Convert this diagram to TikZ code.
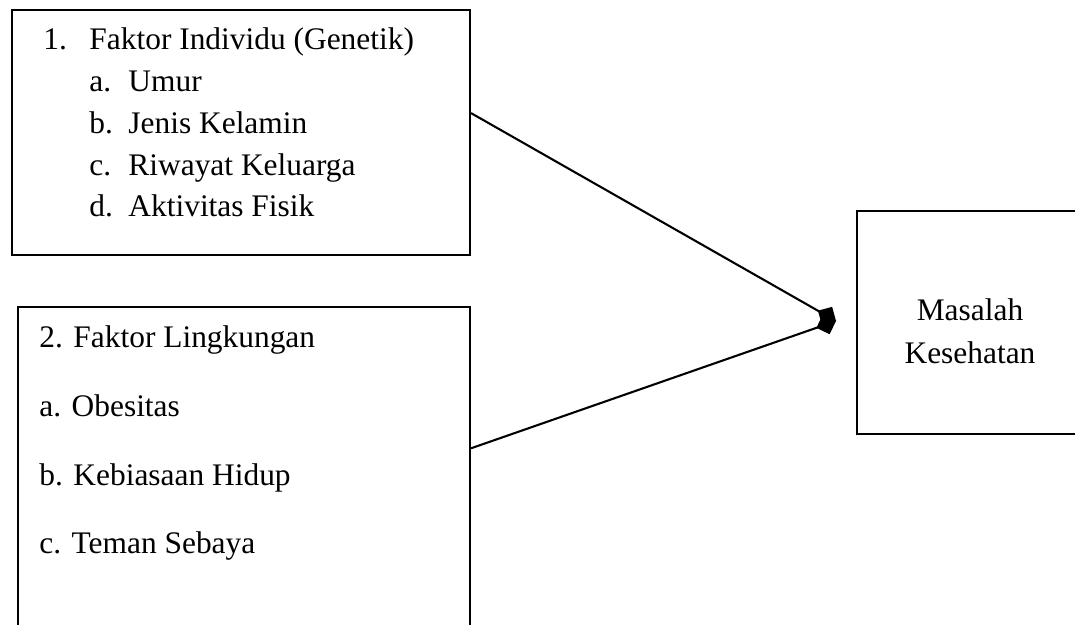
\documentclass[tikz,border=0pt,12pt]{standalone}
\usepackage{fontspec}
\setmainfont{Liberation Serif}
\usepackage{tikz}
\usetikzlibrary{arrows.meta}

\tikzset{
  kotak/.style={draw, line width=0.9pt, inner sep=0pt},
  teks/.style={anchor=base west, inner sep=0pt, font=\fontsize{13.6}{16}\selectfont},
  panah/.style={line width=0.9pt, -{Diamond[length=9pt,width=9pt]}}
}

\begin{document}
\begin{tikzpicture}[x=0.433pt, y=-0.433pt]
  \useasboundingbox (0,0) rectangle (1075,625);
  \clip (0,0) rectangle (1075,625);
  % kotak faktor
  \node[kotak, minimum width=458*0.433pt, minimum height=245*0.433pt] (box1) at (241,132.5) {};
  \node[kotak, minimum width=452*0.433pt, minimum height=338*0.433pt] (box2) at (244,476) {};
  \node[kotak, minimum width=228*0.433pt, minimum height=223*0.433pt] (box3) at (971,322.5) {};
  % isi kotak 1
  \node[teks] (no1) at (43,50) {1.};
  \node[teks] (f1) at (89,50) {Faktor Individu (Genetik)};
  \foreach \huruf/\isi [count=\i] in {a/Umur, b/Jenis Kelamin, c/Riwayat Keluarga, d/Aktivitas Fisik}
  {
    \node[teks] (h1\i) at (89,50+41.75*\i) {\huruf.};
    \node[teks] (s1\i) at (128,50+41.75*\i) {\isi};
  }
  % isi kotak 2
  \node[teks] (f2) at (39,347) {2. Faktor Lingkungan};
  \node[teks] (s21) at (39,416) {a. Obesitas};
  \node[teks] (s22) at (39,485) {b. Kebiasaan Hidup};
  \node[teks] (s23) at (39,553) {c. Teman Sebaya};
  % isi kotak 3
  \node[teks, anchor=base] (m1) at (970,320) {Masalah};
  \node[teks, anchor=base] (m2) at (970,363) {Kesehatan};
  % panah
  \coordinate (ujung) at (836,321);
  \draw[panah] ([yshift=8.4pt]box1.east) -- (ujung);
  \draw[panah] ([yshift=12pt]box2.east) -- (ujung);
\end{tikzpicture}
\end{document}
